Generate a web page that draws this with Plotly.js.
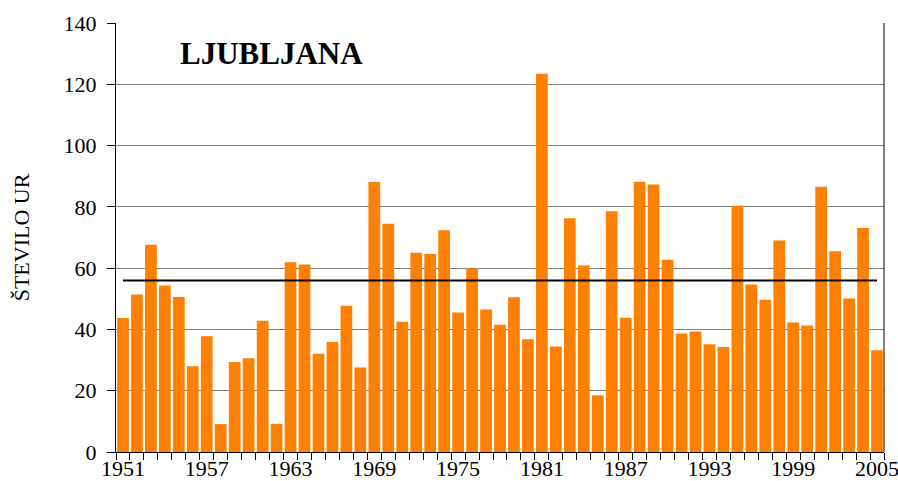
<!DOCTYPE html>
<html>
<head>
<meta charset="utf-8">
<script src="https://cdn.plot.ly/plotly-3.0.1.min.js"></script>
<style>html,body{margin:0;padding:0;background:#fff;}#chart{width:898px;height:481px;}</style>
</head>
<body>
<div id="chart"></div>
<script>
const years = [1951,1952,1953,1954,1955,1956,1957,1958,1959,1960,
  1961,1962,1963,1964,1965,1966,1967,1968,1969,1970,
  1971,1972,1973,1974,1975,1976,1977,1978,1979,1980,
  1981,1982,1983,1984,1985,1986,1987,1988,1989,1990,
  1991,1992,1993,1994,1995,1996,1997,1998,1999,2000,
  2001,2002,2003,2004,2005];
const hours = [43.7,51.4,67.6,54.3,50.6,28.0,37.8,9.1,29.4,30.6,
  42.8,9.2,61.9,61.2,32.1,35.9,47.7,27.6,88.1,74.5,
  42.5,65.0,64.6,72.4,45.5,59.9,46.5,41.5,50.5,36.8,
  123.4,34.4,76.3,60.9,18.5,78.6,43.8,88.2,87.3,62.7,
  38.7,39.3,35.2,34.3,80.4,54.7,49.7,69.0,42.3,41.3,
  86.6,65.5,50.1,73.1,33.2];
const referenceValue = 56;
const tickYears = [1951,1957,1963,1969,1975,1981,1987,1993,1999,2005];
const stationName = 'LJUBLJANA';
const yTitle = 'ŠTEVILO UR';

const font = '"Liberation Serif", "Times New Roman", serif';

const traces = [
  {type:'bar', x: years, y: hours, marker:{color:'#ff8000', line:{width:0}}, hoverinfo:'x+y'},
  {type:'scatter', mode:'lines', x:[years[0], years[years.length-1]], y:[referenceValue, referenceValue],
   line:{color:'#000', width:2}, hoverinfo:'skip'}
];

const layout = {
  width: 898, height: 481,
  margin: {l:116, r:14, t:23, b:29},
  paper_bgcolor:'#fff', plot_bgcolor:'#fff',
  showlegend:false,
  bargap:0.16,
  font:{family:font, color:'#000', size:22},
  xaxis:{
    type:'linear', range:[years[0]-0.5, years[years.length-1]+0.5],
    tickmode:'array', tickvals:tickYears, ticktext:tickYears.map(String),
    ticks:'', ticklabeloverflow:'allow', ticklabelstandoff:-3,
    showgrid:false, zeroline:false,
    showline:true, linecolor:'#000', linewidth:1,
    tickfont:{family:font, size:22, color:'#000'},
    minor:{tickmode:'linear', tick0:years[0]-0.5, dtick:1, ticks:'outside', ticklen:7, tickcolor:'#000', tickwidth:1, showgrid:false}
  },
  yaxis:{
    range:[0,140], dtick:20, tick0:0,
    ticks:'outside', ticklen:8, tickcolor:'#000',
    ticklabelstandoff:6,
    showgrid:true, gridcolor:'#808080', gridwidth:1,
    zeroline:false, showline:true, linecolor:'#000', linewidth:1,
    tickfont:{family:font, size:22, color:'#000'},
    title:{text:yTitle, font:{family:font, size:22, color:'#000'}, standoff:27}
  },
  shapes:[
    {type:'line', xref:'paper', yref:'paper', x0:1, x1:1, y0:0, y1:1, line:{color:'#000', width:1}}
  ],
  annotations:[
    {text:'<b>'+stationName+'</b>', xref:'paper', yref:'paper', x:0.081, y:0.928, xanchor:'left', yanchor:'middle',
     showarrow:false, font:{family:font, size:31, color:'#000'}}
  ]
};

Plotly.newPlot('chart', traces, layout, {displayModeBar:false, staticPlot:true});
</script>
</body>
</html>
